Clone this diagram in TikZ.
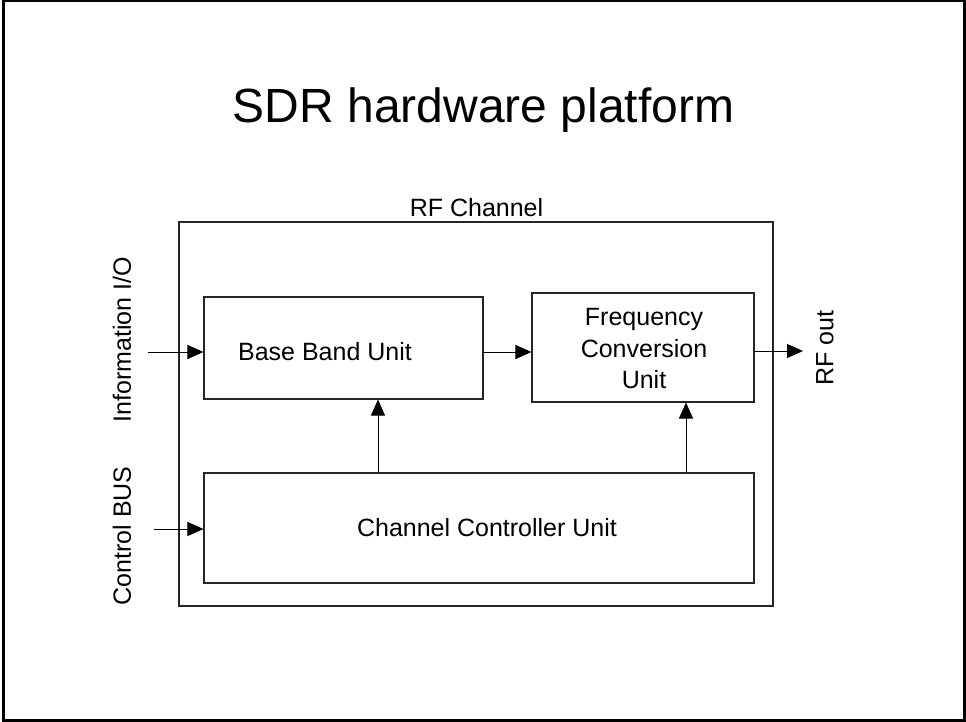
\documentclass[tikz,border=0pt]{standalone}
\usepackage{fontspec}
\setmainfont{Liberation Sans}
\usetikzlibrary{arrows.meta,calc}
\begin{document}
\begin{tikzpicture}[x=1pt,y=-1pt,
  unitbox/.style={draw=black!85,line width=1.1pt,inner sep=0pt,rectangle},
  lbl/.style={inner sep=0pt,font=\fontsize{25}{31.5}\selectfont,align=center},
  flow/.style={draw=black,line width=1pt,-{Triangle[length=16pt,width=14pt]}}]
  \useasboundingbox (0,0) rectangle (966,722);
  % page frame
  \node[draw,line width=3pt,minimum width=961pt,minimum height=719pt,inner sep=0pt] (frame) at (483.5,360.5) {};
  % title
  \node[inner sep=0pt,font=\fontsize{48}{58}\selectfont,anchor=base] (title) at (483.5,123) {SDR hardware platform};
  % RF channel enclosure
  \node[unitbox,minimum width=594pt,minimum height=384pt] (rf) at (476,414) {};
  \node[lbl,anchor=base] (rflbl) at (476.5,216) {RF Channel};
  % functional units
  \node[unitbox,minimum width=279pt,minimum height=102pt] (bb) at (343.5,348) {};
  \node[lbl] (bbl) at (325,352) {Base Band Unit};
  \node[unitbox,minimum width=222pt,minimum height=109pt] (fc) at (643,347.5) {};
  \node[lbl] (fcl) at (644,349) {Frequency\\Conversion\\Unit};
  \node[unitbox,minimum width=550pt,minimum height=110pt] (ccu) at (479,528) {};
  \node[lbl] (ccul) at (487,528) {Channel Controller Unit};
  % external labels
  \node[lbl,rotate=90] (infol) at (122,340) {Information I/O};
  \node[lbl,rotate=90] (ctrll) at (122,536) {Control BUS};
  \node[lbl,rotate=90] (rfoutl) at (825,348) {RF out};
  % connector end points
  \coordinate (infoin) at (148,352);
  \coordinate (ctrlin) at (154,529);
  \coordinate (rfout) at (803,351);
  \coordinate (mid) at (0,352);
  \coordinate (va) at (378,0);
  \coordinate (vb) at (686,0);
  % signal flow
  \draw[flow] (infoin) -- (infoin -| bb.west);
  \draw[flow] (ctrlin) -- (ctrlin -| ccu.west);
  \draw[flow] (mid -| bb.east) -- (mid -| fc.west);
  \draw[flow] (rfout -| fc.east) -- (rfout);
  \draw[flow] (va |- ccu.north) -- (va |- bb.south);
  \draw[flow] (vb |- ccu.north) -- (vb |- fc.south);
\end{tikzpicture}
\end{document}
